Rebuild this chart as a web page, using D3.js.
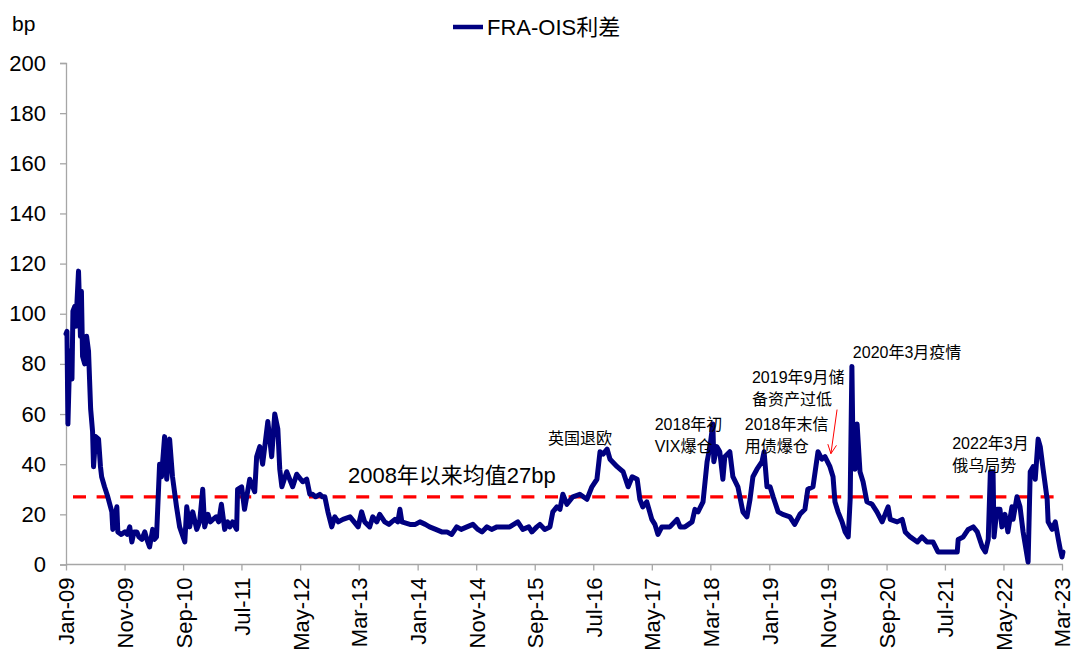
<!DOCTYPE html>
<html>
<head>
<meta charset="utf-8">
<script src="https://cdn.jsdelivr.net/npm/d3@7"></script>
<style>
  html, body { margin: 0; padding: 0; background: #fff; }
  svg { display: block; }
  text { font-family: "Liberation Sans", Arial, "Noto Sans CJK SC", sans-serif; fill: #000; }
</style>
</head>
<body>
<svg id="chart" width="1080" height="661"></svg>
<script>
// ---------------- DATA ----------------
const seriesName = "FRA-OIS利差";
const unitLabel = "bp";
const meanValue = 27;
const meanLabel = "2008年以来均值27bp";
const xTickLabels = ["Jan-09","Nov-09","Sep-10","Jul-11","May-12","Mar-13","Jan-14","Nov-14","Sep-15",
  "Jul-16","May-17","Mar-18","Jan-19","Nov-19","Sep-20","Jul-21","May-22","Mar-23"];
const yTickValues = [0,20,40,60,80,100,120,140,160,180,200];

const fraOis = [
  ["2009-01-01",92],["2009-01-06",93],["2009-01-11",56],["2009-01-21",85],["2009-02-01",74],["2009-02-06",101],
  ["2009-02-16",103],["2009-02-21",95],["2009-02-26",103],["2009-03-07",117],["2009-03-17",91],["2009-03-22",109],
  ["2009-03-28",83],["2009-04-08",80],["2009-04-18",91],["2009-04-28",85],["2009-05-09",62],["2009-05-19",53],
  ["2009-05-24",39],["2009-06-04",51],["2009-06-19",50],["2009-06-29",39],["2009-07-05",35],["2009-07-20",31],
  ["2009-08-06",27],["2009-08-27",21],["2009-09-01",14],["2009-09-22",23],["2009-09-27",13],["2009-10-15",12],
  ["2009-11-03",13],["2009-11-15",12],["2009-11-28",15],["2009-12-09",9],["2009-12-20",13],
  ["2010-01-04",13],["2010-01-15",11],["2010-01-30",10],["2010-02-14",13],["2010-02-25",10],["2010-03-11",7],
  ["2010-03-27",14],["2010-04-05",10],["2010-04-16",11],
  ["2010-05-02",40],["2010-05-12",35],["2010-05-28",51],["2010-06-08",34],["2010-06-23",50],["2010-07-08",35],
  ["2010-07-29",23],["2010-08-14",15],["2010-09-10",9],["2010-09-20",23],["2010-10-05",15],["2010-10-21",21],
  ["2010-11-11",14],["2010-11-26",17],["2010-12-12",30],["2010-12-22",15],
  ["2011-01-08",20],["2011-01-20",17],["2011-02-03",18],["2011-02-20",19],["2011-03-05",17],["2011-03-19",24],
  ["2011-04-05",14],["2011-04-20",17],["2011-05-01",15],["2011-05-16",17],["2011-06-06",14],
  ["2011-06-11",30],["2011-07-02",31],["2011-07-17",22],["2011-08-13",34],["2011-09-08",29],["2011-09-18",43],
  ["2011-10-04",47],["2011-10-19",40],["2011-11-15",57],["2011-12-05",43],["2011-12-21",60],
  ["2012-01-06",54],["2012-01-16",38],["2012-01-27",31],["2012-02-21",37],["2012-03-23",31],["2012-04-13",36],
  ["2012-05-14",33],["2012-06-04",34],["2012-06-20",28],["2012-07-05",28],["2012-07-20",27],["2012-08-11",28],
  ["2012-08-25",27],["2012-09-06",27],["2012-09-22",21],["2012-10-12",15],["2012-10-28",19],["2012-11-15",17],
  ["2012-12-09",18],
  ["2013-01-15",19],["2013-02-05",17],["2013-02-26",15],["2013-03-16",21],["2013-04-01",17],["2013-04-27",15],
  ["2013-05-13",19],["2013-06-03",17],["2013-06-18",20],["2013-07-14",17],["2013-08-05",16],["2013-08-20",17],
  ["2013-09-05",18],["2013-09-20",17],["2013-10-01",22],["2013-10-11",17],["2013-11-22",16],["2013-12-20",16],
  ["2014-01-13",17],["2014-02-10",16],["2014-03-04",15],["2014-04-05",14],["2014-05-06",13],["2014-06-02",13],
  ["2014-06-27",12],["2014-07-23",15],["2014-08-15",14],["2014-09-14",15],["2014-10-15",16],["2014-11-10",14],
  ["2014-12-01",13],["2014-12-27",15],
  ["2015-01-20",14],["2015-02-17",15],["2015-03-18",15],["2015-04-24",15],["2015-05-15",16],["2015-06-05",17],
  ["2015-07-01",14],["2015-08-01",15],["2015-08-17",13],["2015-09-12",15],["2015-09-28",16],["2015-10-23",14],
  ["2015-11-19",15],["2015-12-04",21],["2015-12-25",23],
  ["2016-01-10",22],["2016-01-25",28],["2016-02-15",24],["2016-03-17",27],["2016-04-22",28],["2016-05-29",26],
  ["2016-06-24",31],["2016-07-20",34],["2016-08-05",45],["2016-08-21",44],["2016-09-11",46],["2016-09-26",42],
  ["2016-11-02",39],["2016-12-03",37],["2016-12-29",31],
  ["2017-01-19",35],["2017-02-14",34],["2017-02-28",26],["2017-03-15",23],["2017-04-05",25],["2017-05-01",18],
  ["2017-05-17",16],["2017-06-02",12],["2017-06-22",15],["2017-08-03",15],["2017-09-09",18],["2017-09-25",15],
  ["2017-10-20",15],["2017-11-26",17],["2017-12-11",22],["2017-12-27",21],
  ["2018-01-22",25],["2018-02-12",41],["2018-02-27",47],["2018-03-14",56],["2018-03-19",41],["2018-04-04",47],
  ["2018-04-19",45],["2018-05-05",34],["2018-05-15",43],["2018-06-10",45],["2018-06-26",35],["2018-07-22",31],
  ["2018-08-17",21],["2018-09-07",19],["2018-09-23",26],["2018-10-08",35],["2018-10-29",38],["2018-11-24",41],
  ["2018-12-05",45],["2018-12-20",31],
  ["2019-01-05",31],["2019-01-21",27],["2019-02-16",21],["2019-03-12",20],["2019-04-18",19],["2019-05-13",16],
  ["2019-06-09",20],["2019-07-05",22],["2019-07-20",30],["2019-08-16",31],["2019-09-11",45],["2019-10-01",42],
  ["2019-10-17",43],["2019-11-12",39],["2019-11-28",35],["2019-12-08",25],["2019-12-24",21],
  ["2020-01-14",17],["2020-01-30",13],["2020-02-15",11],["2020-02-25",26],["2020-03-05",79],["2020-03-10",50],
  ["2020-03-21",38],["2020-04-01",56],["2020-04-16",37],["2020-05-02",33],["2020-05-22",25],["2020-06-18",24],
  ["2020-07-13",21],["2020-08-09",17],["2020-09-09",23],["2020-09-20",18],["2020-10-26",17],["2020-11-21",18],
  ["2020-12-07",13],
  ["2021-01-02",11],["2021-02-08",9],["2021-03-04",11],["2021-03-30",9],["2021-04-30",9],["2021-05-26",5],
  ["2021-06-21",5],["2021-07-27",5],["2021-09-03",5],["2021-09-08",10],["2021-10-04",11],["2021-10-30",14],
  ["2021-11-25",15],["2021-12-16",13],
  ["2022-01-11",7],["2022-01-27",5],["2022-02-11",10],["2022-02-22",37],["2022-03-08",37],["2022-03-13",11],
  ["2022-03-28",22],["2022-04-13",22],["2022-04-23",15],["2022-05-09",20],["2022-05-24",13],["2022-06-14",23],
  ["2022-06-20",18],["2022-07-10",27],["2022-07-26",23],["2022-08-11",13],["2022-09-06",1],["2022-09-17",37],
  ["2022-10-02",39],["2022-10-13",34],["2022-10-28",50],["2022-11-08",47],["2022-11-23",38],["2022-12-14",26],
  ["2022-12-19",17],
  ["2023-01-09",14],["2023-01-25",17],["2023-02-10",10],["2023-02-20",6],["2023-03-01",3],["2023-03-06",5]
];

// annotation texts, anchored at (date, value) of their first line
const annotations = [
  { lines: ["英国退欧"], date: "2015-11-09", value: 50.5 },
  { lines: ["2018年初", "VIX爆仓"], date: "2017-05-16", value: 56.1 },
  { lines: ["2018年末信", "用债爆仓"], date: "2018-08-27", value: 56.1 },
  { lines: ["2019年9月储", "备资产过低"], date: "2018-10-03", value: 74.6 },
  { lines: ["2020年3月疫情"], date: "2020-03-10", value: 84.7 },
  { lines: ["2022年3月", "俄乌局势"], date: "2021-08-08", value: 48.5 }
];
const arrowFrom = { date: "2019-12-19", value: 61.8 };
const arrowTo = { date: "2019-11-17", value: 44.2 };

// ---------------- CHART ----------------
const parseDate = d3.timeParse("%Y-%m-%d");
const parseTick = d3.timeParse("%b-%y");
const series = fraOis.map(d => ({ date: parseDate(d[0]), value: d[1] }));
const tickDates = xTickLabels.map(parseTick);

const svg = d3.select("#chart");
const axisColor = "#a6a6a6";
const lineColor = "#000080";

const x = d3.scaleTime()
  .domain([tickDates[0], tickDates[tickDates.length - 1]])
  .range([66, 1062]);
const y = d3.scaleLinear().domain([0, 200]).range([564.5, 63]);

// Y axis
const yAxis = d3.axisLeft(y).tickValues(yTickValues).tickSize(6).tickPadding(14).tickFormat(d3.format("d"));
const gy = svg.append("g").attr("transform", "translate(66,0)").call(yAxis);
gy.select(".domain").attr("stroke", axisColor).attr("stroke-width", 1.3);
gy.selectAll(".tick line").attr("stroke", axisColor).attr("stroke-width", 1.3);
gy.selectAll(".tick text").attr("font-size", 22).attr("fill", "#000")
  .attr("font-family", '"Liberation Sans", Arial, sans-serif');

// X axis
const xAxis = d3.axisBottom(x).tickValues(tickDates).tickSize(6).tickSizeOuter(0)
  .tickFormat((d, i) => xTickLabels[i]);
const gx = svg.append("g").attr("transform", "translate(0,564.5)").call(xAxis);
gx.select(".domain").attr("stroke", axisColor).attr("stroke-width", 1.3)
  .attr("d", `M66,0H${x(parseDate("2023-03-06"))}`);
gx.selectAll(".tick line").attr("stroke", axisColor).attr("stroke-width", 1.3);
gx.selectAll(".tick text")
  .attr("font-size", 22).attr("fill", "#000")
  .attr("font-family", '"Liberation Sans", Arial, sans-serif')
  .attr("transform", "rotate(-90)")
  .attr("text-anchor", "end")
  .attr("x", -13).attr("y", 0).attr("dy", "0.36em");

// Mean dashed line
svg.append("line")
  .attr("x1", x(series[0].date)).attr("x2", x(series[series.length - 1].date))
  .attr("y1", y(meanValue)).attr("y2", y(meanValue))
  .attr("stroke", "#ff0000").attr("stroke-width", 3.2)
  .attr("stroke-dasharray", "13,10.6").attr("stroke-dashoffset", 16.6);

// Series line
const line = d3.line().x(d => x(d.date)).y(d => y(d.value));
svg.append("path").datum(series)
  .attr("d", line)
  .attr("fill", "none")
  .attr("stroke", lineColor)
  .attr("stroke-width", 5)
  .attr("stroke-linejoin", "round")
  .attr("stroke-linecap", "round");

// Unit label
svg.append("text").attr("x", 12).attr("y", 31).attr("font-size", 21).text(unitLabel);

// Legend
svg.append("line").attr("x1", 453).attr("x2", 483).attr("y1", 27).attr("y2", 27)
  .attr("stroke", lineColor).attr("stroke-width", 4.5);
svg.append("text").attr("x", 487).attr("y", 27).attr("dy", "0.36em")
  .attr("font-size", 22).text(seriesName);

// Mean label
svg.append("text").attr("x", x(parseDate("2013-01-04"))).attr("y", y(35.8)).attr("dy", "0.36em")
  .attr("font-size", 22).text(meanLabel);

// Annotations
annotations.forEach(a => {
  const t = svg.append("text")
    .attr("x", x(parseDate(a.date))).attr("y", y(a.value))
    .attr("font-size", 16);
  a.lines.forEach((ln, i) => {
    t.append("tspan").attr("x", x(parseDate(a.date)))
      .attr("dy", i === 0 ? "0.36em" : "1.38em").text(ln);
  });
});

// Arrow
const ax1 = x(parseDate(arrowFrom.date)), ay1 = y(arrowFrom.value);
const ax2 = x(parseDate(arrowTo.date)), ay2 = y(arrowTo.value);
svg.append("line").attr("x1", ax1).attr("y1", ay1).attr("x2", ax2).attr("y2", ay2)
  .attr("stroke", "#ff0000").attr("stroke-width", 1);
const ang = Math.atan2(ay2 - ay1, ax2 - ax1);
const hl = 10, ha = 0.45;
svg.append("path")
  .attr("d", `M${ax2 - hl * Math.cos(ang - ha)},${ay2 - hl * Math.sin(ang - ha)}L${ax2},${ay2}L${ax2 - hl * Math.cos(ang + ha)},${ay2 - hl * Math.sin(ang + ha)}`)
  .attr("fill", "none").attr("stroke", "#ff0000").attr("stroke-width", 1);
</script>
</body>
</html>
